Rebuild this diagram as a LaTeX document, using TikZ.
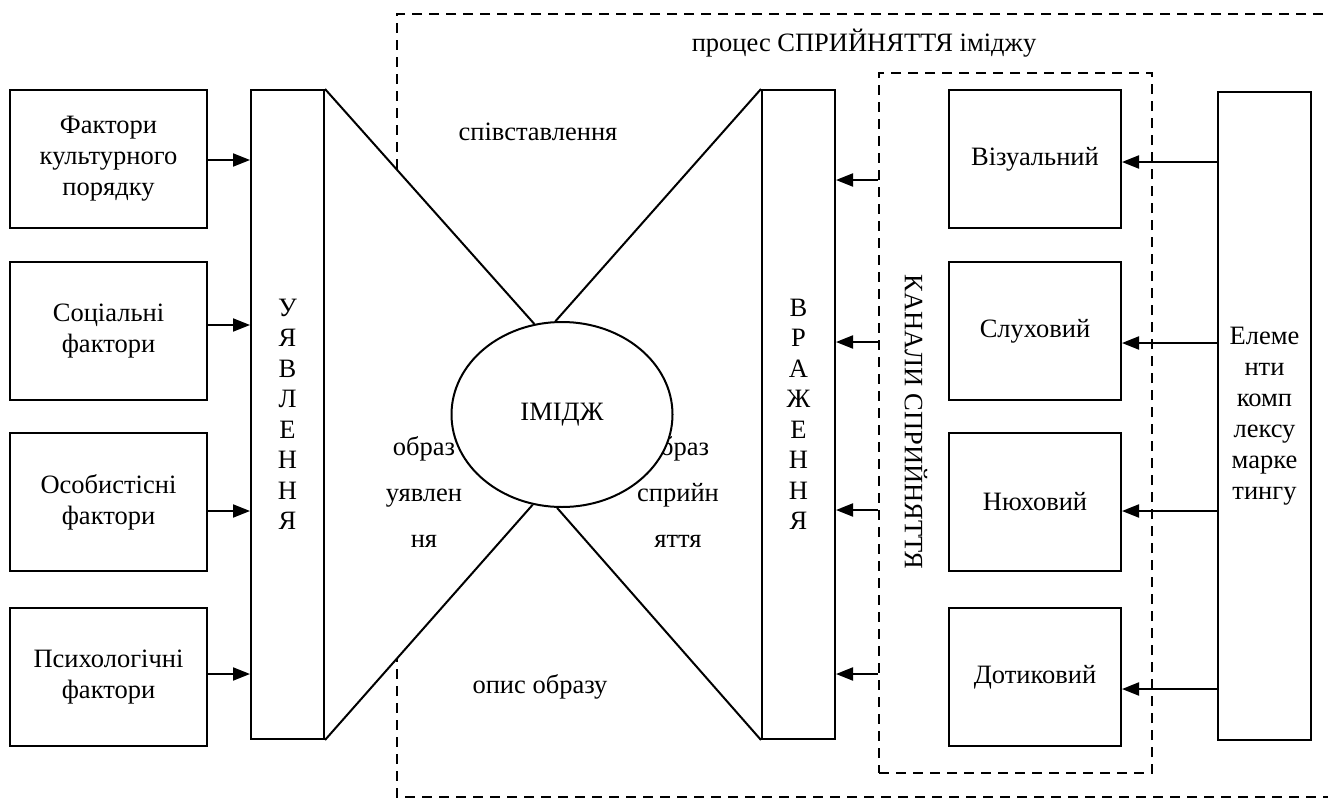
\documentclass[tikz,border=0pt]{standalone}
\usepackage{fontspec}
\setmainfont{Liberation Serif}
\usetikzlibrary{arrows.meta,positioning,shapes.geometric,backgrounds}

\begin{document}
\begin{tikzpicture}[
    x=1pt, y=-1pt,
    font=\fontsize{26.5}{31}\selectfont,
    line width=2pt,
    node distance=32pt,
    factor/.style={draw, align=center, minimum width=197pt, minimum height=138pt, inner sep=2pt},
    channel/.style={draw, align=center, minimum width=172pt, minimum height=138pt, inner sep=2pt},
    bar/.style={draw, align=center, minimum width=73pt, minimum height=649pt, inner sep=0pt, font=\fontsize{26.5}{30.5}\selectfont},
    frame/.style={draw, line width=2pt, dash pattern=on 10pt off 7pt},
    caption/.style={align=center, font=\fontsize{26.5}{46}\selectfont},
    arrow/.style={-{Triangle[length=17pt,width=13pt]}}
]
\useasboundingbox (0,0) rectangle (1328,798);
\clip (0,0) rectangle (1328,798);

% Factors
\node[factor] (f1) at (108.5,159) {Фактори\\культурного\\порядку};
\node[factor, below=32pt of f1] (f2) {Соціальні\\фактори};
\node[factor, below=31pt of f2] (f3) {Особистісні\\фактори};
\node[factor, below=35pt of f3] (f4) {Психологічні\\фактори};

\node[bar] (uyav) at (287.5,414.5) {У\\Я\\В\\Л\\Е\\Н\\Н\\Я};
\node[bar] (vraz) at (798.5,414.5) {В\\Р\\А\\Ж\\Е\\Н\\Н\\Я};

% Channels
\node[frame, minimum width=273pt, minimum height=700pt] (chan) at (1015.5,423) {};
\node[rotate=-90] (chlab) at (916,422) {КАНАЛИ СПРИЙНЯТТЯ};
\node[channel] (c1) at (1035,159) {Візуальний};
\node[channel, below=32pt of c1] (c2) {Слуховий};
\node[channel, below=31pt of c2] (c3) {Нюховий};
\node[channel, below=35pt of c3] (c4) {Дотиковий};

\node[bar, minimum width=93pt, minimum height=648pt, font=\fontsize{26.5}{31}\selectfont] (el) at (1264.5,416) {Елеме\\нти\\комп\\лексу\\марке\\тингу};

% Labels
\node (title) at (864,43) {процес СПРИЙНЯТТЯ іміджу};
\node (cmp) at (538,132) {співставлення};
\node (desc) at (540,687) {опис образу};
\node[caption] (imgl) at (424,492) {образ\\уявлен\\ня};
\node[caption] (imgr) at (678,492) {образ\\сприйн\\яття};

\node[draw, ellipse, fill=white, minimum width=221pt, minimum height=185pt, inner sep=0pt] (img) at (562,414.5) {ІМІДЖ};

\draw (uyav.north east) -- (img.107);
\draw (img.94) -- (vraz.north west);
\draw (uyav.south east) -- (img.252);
\draw (img.267) -- (vraz.south west);

\foreach \i/\d in {1/-1,2/6,3/-9,4/3}
  \draw[arrow, transform canvas={yshift=\d pt}] (f\i.east) -- (f\i.east -| uyav.west);
\foreach \i/\d in {1/-3,2/-12,3/-9,4/-12}
  \draw[arrow, transform canvas={yshift=\d pt}] (el.west |- c\i.east) -- (c\i.east);
\foreach \i/\d in {1/-21,2/-11,3/-8,4/3}
  \draw[arrow, transform canvas={yshift=\d pt}] (chan.west |- c\i.west) -- (vraz.east |- c\i.west);

\begin{scope}[on background layer]
\draw[frame] (1340,14) -- (397,14) -- (397,797) -- (1340,797);
\fill[white] (uyav.north east) -- (img.107) -- (img.252) -- (uyav.south east) -- cycle;
\end{scope}

\end{tikzpicture}
\end{document}
